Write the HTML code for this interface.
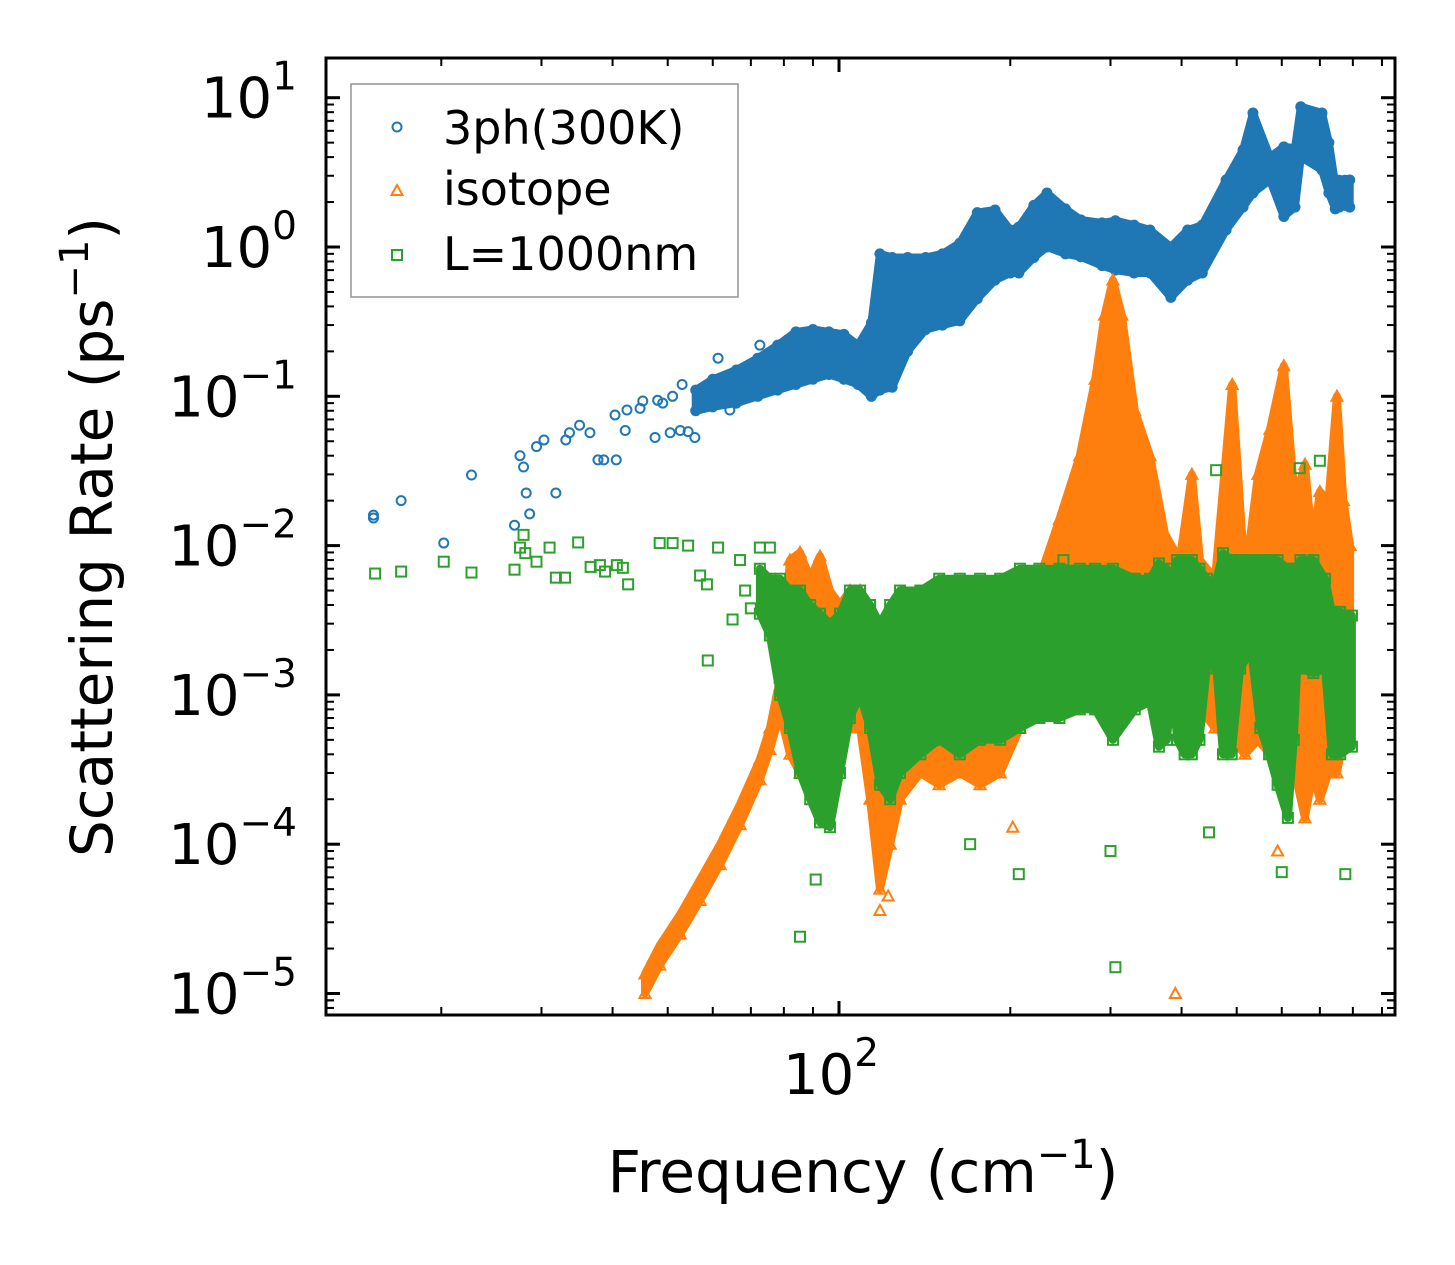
<!DOCTYPE html>
<html><head><meta charset="utf-8">
<style>
html,body{margin:0;padding:0;background:#fff;}
svg{display:block;font-family:"DejaVu Sans","Liberation Sans",sans-serif;}
</style></head>
<body>
<svg id="chart" width="1455" height="1265" viewBox="0 0 1455 1265" xmlns="http://www.w3.org/2000/svg">
<rect x="0" y="0" width="1455" height="1265" fill="#fff"/>
<g id="plot"></g>
<g id="axes"></g>
<g>
<rect x="351" y="84" width="387" height="213" fill="#fff" stroke="#999" stroke-width="1.6"/>
<circle cx="397" cy="127" r="4.5" fill="none" stroke="#1f77b4" stroke-width="2"/>
<text x="443" y="144" font-size="46">3ph(300K)</text>
<path d="M391.5,195 L397,185 L402.5,195 Z" fill="none" stroke="#ff7f0e" stroke-width="2"/>
<text x="443" y="205" font-size="46">isotope</text>
<rect x="392" y="250" width="10" height="10" fill="none" stroke="#2ca02c" stroke-width="2"/>
<text x="443" y="270" font-size="46">L=1000nm</text>
</g>
<text x="863" y="1192" font-size="58" text-anchor="middle">Frequency (cm<tspan font-size="40" dy="-24">−1</tspan><tspan dy="24">)</tspan></text>
<text transform="translate(112,537) rotate(-90)" font-size="58" text-anchor="middle">Scattering Rate (ps<tspan font-size="40" dy="-24">−1</tspan><tspan dy="24">)</tspan></text>
</svg>
<script>
// ---- data: 3ph(300K) envelope (frequency cm^-1, lower/upper rate ps^-1)
const blueFreq = [56,60,66,72,78,84,90,96,102,108,114,118,124,132,142,152,163,175,188,200,207,220,232,250,266,290,306,330,352,383,410,435,479,513,534,572,605,633,648,706,726,745,757,775,790];
const blueLo   = [.08,.085,.09,.1,.11,.12,.13,.14,.13,.12,.10,.11,.115,.2,.28,.30,.32,.45,.6,.67,.67,.85,1.0,.9,.86,.75,.7,.67,.67,.46,.6,.67,1.3,1.85,2.3,2.81,1.6,1.85,4.0,3.28,2.3,1.8,1.85,1.9,1.85];
const blueHi   = [.11,.13,.15,.18,.22,.27,.28,.27,.26,.22,.31,.9,.85,.85,.85,.9,1.06,1.7,1.77,1.3,1.36,1.9,2.3,1.8,1.52,1.45,1.5,1.4,1.3,1.0,1.3,1.4,2.81,4.47,7.9,4.0,4.68,4.6,8.7,7.9,5,2.6,2.8,2.8,2.81];
// sparse 3ph points
const bluePtF = [15.2,15.2,17.0,20.2,22.6,26.9,27.5,27.9,28.2,28.6,29.4,30.3,31.8,33.1,33.6,35.0,36.5,37.7,38.6,40.4,40.6,42.1,42.4,44.7,45.2,47.5,48.0,50.5,52.6,54.3,55.8,58.1,61.3,64.3,67,72.6,49,51,53];
const bluePtV = [.016,.0153,.020,.0104,.0297,.0137,.040,.0336,.0225,.0163,.046,.051,.0225,.051,.057,.064,.057,.0375,.0375,.075,.0375,.059,.081,.083,.093,.053,.094,.057,.059,.058,.053,.11,.18,.081,.094,.22,.09,.1,.12];

// ---- isotope envelope
const orangeFreq = [45.6,48.4,52.6,57,61.8,67,72.6,75.6,78.8,82,85.4,89,92.6,96.4,100.4,104.5,108.9,113.4,118,123,128,139,150,163,177,192,208,225,244,265,282,293,303,314,331,352,374,397,417,431,458,491,517,545,572,605,633,659,680,700,725,750,770,791];
const orangeLo   = [1.0e-5,1.55e-5,2.5e-5,4.2e-5,7.3e-5,1.35e-4,2.7e-4,4.3e-4,7.5e-4,4e-4,3e-4,3e-4,3e-4,4e-4,5e-4,6e-4,6e-4,2e-4,5e-5,1e-4,2e-4,3e-4,2.5e-4,3e-4,2.5e-4,3e-4,6e-4,8e-4,1e-3,1.2e-3,2e-3,3e-3,3e-3,3e-3,2.5e-3,2e-3,1.5e-3,1e-3,1e-3,8e-4,6e-4,5e-4,4e-4,5e-4,4e-4,4e-4,3e-4,1.5e-4,3e-4,2e-4,3e-4,3e-4,5e-4,5e-4];
const orangeHi   = [1.35e-5,2.1e-5,3.4e-5,5.8e-5,1.0e-4,1.85e-4,3.7e-4,6e-4,1.3e-3,8e-3,9e-3,6e-3,8.5e-3,5e-3,4e-3,5e-3,5e-3,3e-3,2e-3,2e-3,2e-3,2e-3,2.5e-3,3e-3,2.5e-3,3e-3,4e-3,6e-3,1.5e-2,4e-2,.13,.35,.6,.35,.08,.04,.012,.008,.03,.008,.006,.12,.006,.03,.06,.16,.02,.035,.01,.023,.02,.1,.02,.01];
const orangePtF = [390,202,118,590,122];
const orangePtV = [1e-5,1.3e-4,3.6e-5,9e-5,4.5e-5];

// ---- L=1000nm envelope
const greenFreq = [72.6,75.6,78.8,82,85.4,89,92.6,96.4,100.4,104.5,108.9,113.4,118,123,128,139,150,163,177,192,208,225,244,265,282,303,331,352,365,377,385,393,405,417,430,443,458,473,490,507,530,550,570,590,615,630,640,647,682,715,735,760,797];
const greenLo   = [3.5e-3,2.5e-3,1e-3,6e-4,3e-4,2e-4,1.4e-4,1.3e-4,3e-4,7e-4,1e-3,6e-4,2.5e-4,2e-4,3e-4,4e-4,5e-4,4e-4,5e-4,5e-4,6e-4,7e-4,7e-4,8e-4,8e-4,5e-4,8e-4,9e-4,4.5e-4,5e-4,1.2e-3,5e-4,4e-4,4e-4,5e-4,1.5e-3,2e-3,4e-4,4e-4,1.5e-3,2e-3,6e-4,4e-4,2.5e-4,1.5e-4,5e-4,1.8e-3,1.5e-3,1.4e-3,1.5e-3,4e-4,4e-4,4.5e-4];
const greenHi   = [7e-3,6e-3,6e-3,5e-3,5e-3,4e-3,3.5e-3,3e-3,3.5e-3,5e-3,5e-3,4e-3,3e-3,4e-3,5e-3,5e-3,6e-3,6e-3,6e-3,6e-3,7e-3,7e-3,7e-3,7e-3,7e-3,7e-3,6e-3,6e-3,7.6e-3,7e-3,6e-3,8e-3,8e-3,8e-3,7e-3,6e-3,5.5e-3,8.9e-3,8e-3,8e-3,8e-3,8e-3,8e-3,8e-3,7e-3,7e-3,5e-3,8e-3,8e-3,6e-3,3.6e-3,3.6e-3,3.4e-3];
const greenPtF = [15.3,17.0,20.2,22.6,26.9,27.5,27.9,28.1,29.4,31,31.8,33,34.8,36.6,38,38.8,40.7,41.7,42.6,48.4,51,54.3,57,58.6,61.3,67,68.4,70,72.6,75.6,58.8,65,85.4,306,207,776,170,300,600,91,447,248,645,700,460];
const greenPtV = [.0065,.0067,.0078,.0066,.0069,.0097,.0118,.0089,.0078,.0097,.0061,.0061,.0105,.0072,.0074,.0067,.0074,.0071,.0055,.0104,.0104,.010,.0063,.0055,.0097,.008,.005,.0038,.0097,.0097,.0017,.0032,2.4e-5,1.5e-5,6.3e-5,6.3e-5,1e-4,9e-5,6.5e-5,5.8e-5,1.2e-4,8e-3,.033,.037,.032];

// ---- axis ticks
const yTickExp = [1,0,-1,-2,-3,-4,-5];
const xMinorTicks = [20,30,40,50,60,70,80,90,200,300,400,500,600,700,800,900];
const xMajorTicks = [100];

const NS = 'http://www.w3.org/2000/svg';
const L = 326, R = 1395, T = 58, B = 1015;
function X(f){ return 839 + 569*Math.log10(f/100); }
function Y(v){ return 247 - 149.3*Math.log10(v); }
function mk(tag, attrs, parent){
  const e = document.createElementNS(NS, tag);
  for (const k in attrs) e.setAttribute(k, attrs[k]);
  parent.appendChild(e);
  return e;
}
const plot = document.getElementById('plot');
const axes = document.getElementById('axes');
const cp = mk('clipPath', {id:'clip'}, plot);
mk('rect', {x:L, y:T, width:R-L, height:B-T}, cp);
const layer = mk('g', {'clip-path':'url(#clip)'}, plot);

function marker(kind, f, v, color, g){
  const x = X(f), y = Y(v);
  let e;
  if (kind === 'circle') e = mk('circle', {cx:x, cy:y, r:4.5, fill:'none', stroke:color, 'stroke-width':2}, g);
  else if (kind === 'tri') e = mk('path', {d:`M${x-5.5},${y+4.5} L${x},${y-5.5} L${x+5.5},${y+4.5} Z`, fill:'none', stroke:color, 'stroke-width':2}, g);
  else e = mk('rect', {x:x-5, y:y-5, width:10, height:10, fill:'none', stroke:color, 'stroke-width':2}, g);
  return e;
}
function series(name, kind, color, fr, lo, hi, pf, pv){
  const g = mk('g', {}, layer);
  
  
  let d = '';
  for (let i=0;i<fr.length;i++) d += (i?'L':'M') + X(fr[i]).toFixed(1) + ',' + Y(hi[i]).toFixed(1);
  for (let i=fr.length-1;i>=0;i--) d += 'L' + X(fr[i]).toFixed(1) + ',' + Y(lo[i]).toFixed(1);
  d += 'Z';
  const band = mk('path', {d:d, fill:color, stroke:color, 'stroke-width':8, 'stroke-linejoin':'round'}, g);
  
  
  for (let i=0;i<fr.length;i++){
    const a = marker(kind, fr[i], lo[i], color, g);
    
    
    const b = marker(kind, fr[i], hi[i], color, g);
    
    
  }
  for (let i=0;i<pf.length;i++){
    const p = marker(kind, pf[i], pv[i], color, g);
    
    
  }
}
series('3ph', 'circle', '#1f77b4', blueFreq, blueLo, blueHi, bluePtF, bluePtV);
series('isotope', 'tri', '#ff7f0e', orangeFreq, orangeLo, orangeHi, orangePtF, orangePtV);
series('l1000nm', 'square', '#2ca02c', greenFreq, greenLo, greenHi, greenPtF, greenPtV);

const frame = mk('rect', {x:L, y:T, width:R-L, height:B-T, fill:'none', stroke:'#000', 'stroke-width':3}, axes);


function tick(x1,y1,x2,y2,w){
  const t = mk('line', {x1:x1,y1:y1,x2:x2,y2:y2,stroke:'#000','stroke-width':w}, axes);
  
  
}
for (const e of yTickExp){
  const y = Y(Math.pow(10,e));
  tick(L, y, L+14, y, 3); tick(R, y, R-14, y, 3);
  const lbl = mk('text', {x:297, y:y+20, 'font-size':56, 'text-anchor':'end'}, axes);
  
  
  lbl.innerHTML = '10<tspan font-size="39" dy="-28">' + (e<0 ? '−'+(-e) : e) + '</tspan>';
  for (let m=2;m<=9;m++){
    const ym = Y(m*Math.pow(10,e-1));
    if (ym > T && ym < B){ tick(L, ym, L+8, ym, 2); tick(R, ym, R-8, ym, 2); }
  }
}
for (let m=2;m<=9;m++){ const ym = Y(m*1e-6); if (ym>T && ym<B){ tick(L, ym, L+8, ym, 2); tick(R, ym, R-8, ym, 2);} }
for (const f of xMinorTicks){ const x = X(f); tick(x, B, x, B-8, 2); tick(x, T, x, T+8, 2); }
for (const f of xMajorTicks){
  const x = X(f); tick(x, B, x, B-14, 3); tick(x, T, x, T+14, 3);
  const lbl = mk('text', {x:x-8, y:1094, 'font-size':56, 'text-anchor':'middle'}, axes);
  
  
  lbl.innerHTML = '10<tspan font-size="39" dy="-28">2</tspan>';
}
</script>
</body></html>
